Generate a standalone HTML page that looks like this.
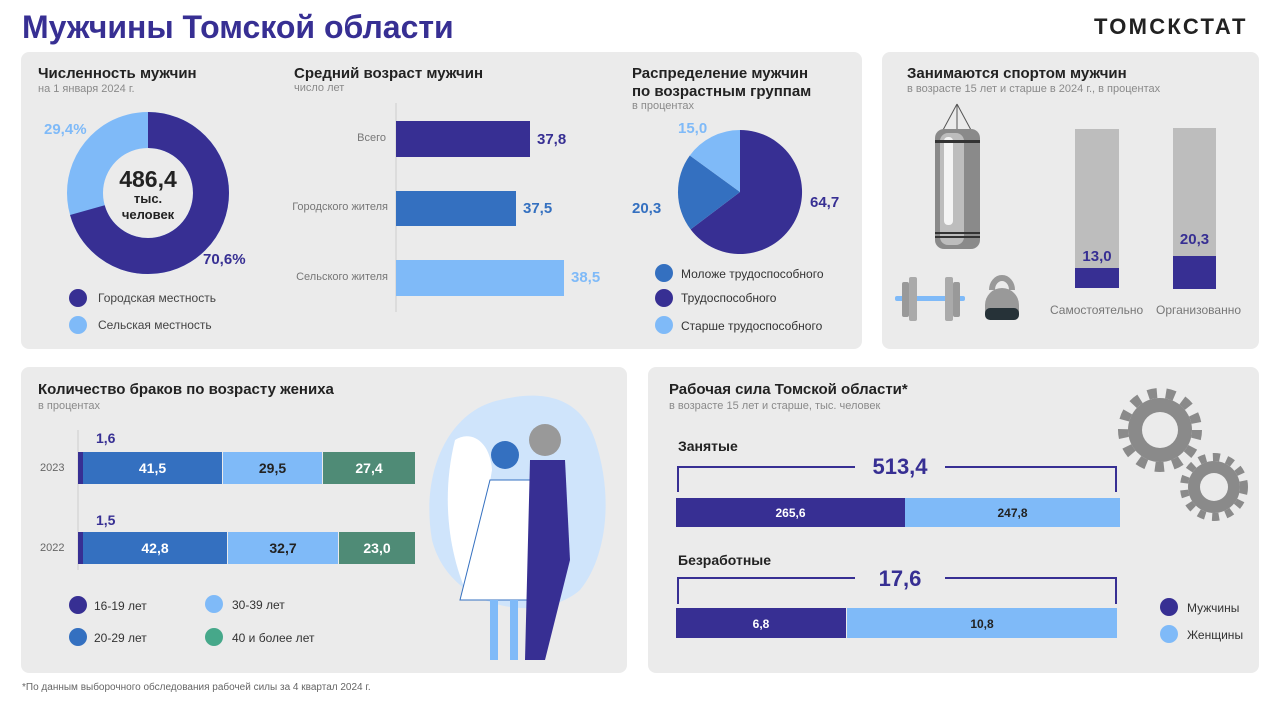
<!DOCTYPE html>
<html><head><meta charset="utf-8"><style>
*{margin:0;padding:0;box-sizing:border-box}
body{width:1280px;height:720px;background:#fff;font-family:"Liberation Sans",sans-serif;position:relative;overflow:hidden;color:#222}
.a{position:absolute;white-space:nowrap}
.p{position:absolute;background:#ebebeb;border-radius:8px}
.h{font-weight:bold;font-size:15px;color:#222}
.s{font-size:11px;color:#8a8a8a}
.dk{color:#372f93}.md{color:#3470c0}.lt{color:#7fbaf8}
.b{font-weight:bold}
</style></head><body>
<div class="a b" style="left:22px;top:9px;font-size:32px;color:#372f93">Мужчины Томской области</div>
<div class="a b" style="left:1094px;top:14px;font-size:22px;letter-spacing:2.3px;color:#222">ТОМСКСТАТ</div>

<div class="p" style="left:21px;top:52px;width:841px;height:297px"></div>
<div class="p" style="left:882px;top:52px;width:377px;height:297px"></div>
<div class="p" style="left:21px;top:367px;width:606px;height:306px"></div>
<div class="p" style="left:648px;top:367px;width:611px;height:306px"></div>

<svg class="a" style="left:0;top:0" width="1280" height="720">
<!-- donut -->
<circle cx="148" cy="193" r="63" fill="none" stroke="#7fbaf8" stroke-width="36"/>
<circle cx="148" cy="193" r="63" fill="none" stroke="#372f93" stroke-width="36" stroke-dasharray="279.4 400" transform="rotate(-90 148 193)"/>
<circle cx="78" cy="298" r="9" fill="#372f93"/><circle cx="78" cy="325" r="9" fill="#7fbaf8"/>
<!-- age bars -->
<line x1="396" y1="103" x2="396" y2="312" stroke="#ccc"/>
<rect x="396" y="121" width="134" height="36" fill="#372f93"/>
<rect x="396" y="191" width="120" height="35" fill="#3470c0"/>
<rect x="396" y="260" width="168" height="36" fill="#7fbaf8"/>
<!-- pie -->
<path d="M740,192 L740,130 A62,62 0 1 1 690.6,229.4 Z" fill="#372f93"/>
<path d="M740,192 L690.6,229.4 A62,62 0 0 1 689.8,155.5 Z" fill="#3470c0"/>
<path d="M740,192 L689.8,155.5 A62,62 0 0 1 740,130 Z" fill="#7fbaf8"/>
<circle cx="664" cy="273" r="9" fill="#3470c0"/><circle cx="664" cy="298" r="9" fill="#372f93"/><circle cx="664" cy="325" r="9" fill="#7fbaf8"/>
<!-- sport -->
<line x1="957" y1="104" x2="943" y2="130" stroke="#555"/><line x1="957" y1="104" x2="971" y2="130" stroke="#555"/><line x1="957" y1="104" x2="957" y2="130" stroke="#555"/>
<rect x="935" y="129" width="45" height="120" rx="9" fill="#8a8a8a"/>
<rect x="940" y="133" width="24" height="112" rx="8" fill="#bdbdbd"/>
<rect x="944" y="137" width="9" height="88" rx="4" fill="#f4f4f4"/>
<rect x="935" y="140" width="45" height="3" fill="#333"/><rect x="935" y="232" width="45" height="2" fill="#333"/><rect x="935" y="236" width="45" height="2" fill="#333"/>
<rect x="895" y="296" width="70" height="5" rx="2" fill="#7fbaf8"/>
<rect x="902" y="282" width="7" height="35" rx="2" fill="#999"/><rect x="909" y="277" width="8" height="44" rx="2" fill="#aaa"/>
<rect x="945" y="277" width="8" height="44" rx="2" fill="#aaa"/><rect x="953" y="282" width="7" height="35" rx="2" fill="#999"/>
<path d="M992,290 a10,12 0 1 1 20,0" fill="none" stroke="#999" stroke-width="6"/>
<path d="M985,305 a17,17 0 0 1 34,0 v10 h-34 z" fill="#999"/><rect x="985" y="308" width="34" height="12" rx="5" fill="#263238"/>
<rect x="1075" y="129" width="44" height="159" fill="#bdbdbd"/><rect x="1075" y="268" width="44" height="20" fill="#372f93"/>
<rect x="1173" y="128" width="43" height="161" fill="#bdbdbd"/><rect x="1173" y="256" width="43" height="33" fill="#372f93"/>
<!-- marriages -->
<line x1="78" y1="430" x2="78" y2="570" stroke="#ccc"/>
<rect x="78" y="452" width="5" height="32" fill="#372f93"/><rect x="83" y="452" width="139" height="32" fill="#3470c0"/><rect x="223" y="452" width="99" height="32" fill="#7fbaf8"/><rect x="323" y="452" width="92" height="32" fill="#4f8b76"/>
<rect x="78" y="532" width="5" height="32" fill="#372f93"/><rect x="83" y="532" width="144" height="32" fill="#3470c0"/><rect x="228" y="532" width="110" height="32" fill="#7fbaf8"/><rect x="339" y="532" width="76" height="32" fill="#4f8b76"/>
<circle cx="78" cy="605" r="9" fill="#372f93"/><circle cx="78" cy="637" r="9" fill="#3470c0"/><circle cx="214" cy="604" r="9" fill="#7fbaf8"/><circle cx="214" cy="637" r="9" fill="#46a88a"/>
<!-- couple -->
<path d="M432,540 C420,470 450,410 500,400 C540,390 580,395 595,440 C615,500 605,560 580,590 C540,625 450,610 432,540Z" fill="#cfe4fb"/>
<path d="M455,440 C470,430 490,440 492,470 L470,600 C450,560 440,500 455,440Z" fill="#fff"/>
<path d="M490,480 L530,480 L550,600 L460,600 Z" fill="#fff" stroke="#3470c0"/>
<circle cx="505" cy="455" r="14" fill="#3470c0"/>
<rect x="490" y="600" width="8" height="60" fill="#7fbaf8"/><rect x="510" y="600" width="8" height="60" fill="#7fbaf8"/>
<path d="M530,460 L565,460 L570,560 L545,660 L525,660 Z" fill="#372f93"/>
<circle cx="545" cy="440" r="16" fill="#999"/>
<!-- labor -->
<path d="M678,492 V467 H855 M945,467 H1116 V492" fill="none" stroke="#372f93" stroke-width="2"/>
<rect x="676" y="498" width="229" height="29" fill="#372f93"/><rect x="905" y="498" width="215" height="29" fill="#7fbaf8"/>
<path d="M678,604 V578 H855 M945,578 H1116 V604" fill="none" stroke="#372f93" stroke-width="2"/>
<rect x="676" y="608" width="170" height="30" fill="#372f93"/><rect x="847" y="608" width="270" height="30" fill="#7fbaf8"/>
<circle cx="1169" cy="607" r="9" fill="#372f93"/><circle cx="1169" cy="634" r="9" fill="#7fbaf8"/>
<g fill="#8a8a8a">
<circle cx="1160" cy="430" r="32"/><circle cx="1160" cy="430" r="18" fill="#ebebeb"/>
<circle cx="1214" cy="487" r="26"/><circle cx="1214" cy="487" r="14" fill="#ebebeb"/>
</g>
<g stroke="#8a8a8a" stroke-width="10" stroke-dasharray="9 9"><circle cx="1160" cy="430" r="37" fill="none"/><circle cx="1214" cy="487" r="30" fill="none" stroke-width="8" stroke-dasharray="7 7"/></g>
</svg>

<div class="a h" style="left:38px;top:65px">Численность мужчин</div>
<div class="a s" style="left:38px;top:83px">на 1 января 2024 г.</div>
<div class="a b lt" style="left:44px;top:121px;font-size:15px">29,4%</div>
<div class="a b dk" style="left:203px;top:251px;font-size:15px">70,6%</div>
<div class="a b" style="left:108px;top:166px;width:80px;text-align:center;font-size:23px;color:#222">486,4</div>
<div class="a b" style="left:108px;top:191px;width:80px;text-align:center;font-size:13px;line-height:16px">тыс.<br>человек</div>
<div class="a" style="left:98px;top:291px;font-size:12px;color:#444">Городская местность</div>
<div class="a" style="left:98px;top:318px;font-size:12px;color:#444">Сельская местность</div>

<div class="a h" style="left:294px;top:65px">Средний возраст мужчин</div>
<div class="a s" style="left:294px;top:82px">число лет</div>
<div class="a" style="left:280px;top:132px;width:106px;text-align:right;font-size:11px;color:#777">Всего</div>
<div class="a" style="left:270px;top:201px;width:118px;text-align:right;font-size:11px;color:#777">Городского жителя</div>
<div class="a" style="left:270px;top:271px;width:118px;text-align:right;font-size:11px;color:#777">Сельского жителя</div>
<div class="a b dk" style="left:537px;top:131px;font-size:15px">37,8</div>
<div class="a b md" style="left:523px;top:200px;font-size:15px">37,5</div>
<div class="a b lt" style="left:571px;top:269px;font-size:15px">38,5</div>

<div class="a h" style="left:632px;top:65px;line-height:18px">Распределение мужчин<br>по возрастным группам</div>
<div class="a s" style="left:632px;top:100px">в процентах</div>
<div class="a b lt" style="left:678px;top:120px;font-size:15px">15,0</div>
<div class="a b md" style="left:632px;top:200px;font-size:15px">20,3</div>
<div class="a b dk" style="left:810px;top:194px;font-size:15px">64,7</div>
<div class="a" style="left:681px;top:267px;font-size:12px;color:#333">Моложе трудоспособного</div>
<div class="a" style="left:681px;top:291px;font-size:12px;color:#333">Трудоспособного</div>
<div class="a" style="left:681px;top:319px;font-size:12px;color:#333">Старше трудоспособного</div>

<div class="a h" style="left:907px;top:65px">Занимаются спортом мужчин</div>
<div class="a s" style="left:907px;top:83px">в возрасте 15 лет и старше в 2024 г.,  в процентах</div>
<div class="a b dk" style="left:1075px;top:248px;width:44px;text-align:center;font-size:15px">13,0</div>
<div class="a b dk" style="left:1173px;top:231px;width:43px;text-align:center;font-size:15px">20,3</div>
<div class="a" style="left:1050px;top:303px;font-size:12px;color:#777">Самостоятельно</div>
<div class="a" style="left:1156px;top:303px;font-size:12px;color:#777">Организованно</div>

<div class="a h" style="left:38px;top:381px">Количество браков по возрасту жениха</div>
<div class="a s" style="left:38px;top:400px">в процентах</div>
<div class="a" style="left:40px;top:462px;font-size:11px;color:#666">2023</div>
<div class="a" style="left:40px;top:542px;font-size:11px;color:#666">2022</div>
<div class="a b dk" style="left:96px;top:430px;font-size:14px">1,6</div>
<div class="a b dk" style="left:96px;top:512px;font-size:14px">1,5</div>
<div class="a b" style="left:83px;top:460px;width:139px;text-align:center;font-size:14px;color:#fff">41,5</div>
<div class="a b" style="left:223px;top:460px;width:99px;text-align:center;font-size:14px;color:#222">29,5</div>
<div class="a b" style="left:323px;top:460px;width:92px;text-align:center;font-size:14px;color:#fff">27,4</div>
<div class="a b" style="left:83px;top:540px;width:144px;text-align:center;font-size:14px;color:#fff">42,8</div>
<div class="a b" style="left:228px;top:540px;width:110px;text-align:center;font-size:14px;color:#222">32,7</div>
<div class="a b" style="left:339px;top:540px;width:76px;text-align:center;font-size:14px;color:#fff">23,0</div>
<div class="a" style="left:94px;top:599px;font-size:12px;color:#333">16-19 лет</div>
<div class="a" style="left:94px;top:631px;font-size:12px;color:#333">20-29 лет</div>
<div class="a" style="left:232px;top:598px;font-size:12px;color:#333">30-39 лет</div>
<div class="a" style="left:232px;top:631px;font-size:12px;color:#333">40 и более лет</div>

<div class="a h" style="left:669px;top:381px">Рабочая сила Томской области*</div>
<div class="a s" style="left:669px;top:400px">в возрасте 15 лет и старше, тыс. человек</div>
<div class="a b" style="left:678px;top:438px;font-size:14px">Занятые</div>
<div class="a b dk" style="left:855px;top:454px;width:90px;text-align:center;font-size:22px">513,4</div>
<div class="a b" style="left:676px;top:506px;width:229px;text-align:center;font-size:12px;color:#fff">265,6</div>
<div class="a b" style="left:905px;top:506px;width:215px;text-align:center;font-size:12px;color:#222">247,8</div>
<div class="a b" style="left:678px;top:552px;font-size:14px">Безработные</div>
<div class="a b dk" style="left:855px;top:566px;width:90px;text-align:center;font-size:22px">17,6</div>
<div class="a b" style="left:676px;top:617px;width:170px;text-align:center;font-size:12px;color:#fff">6,8</div>
<div class="a b" style="left:847px;top:617px;width:270px;text-align:center;font-size:12px;color:#222">10,8</div>
<div class="a" style="left:1187px;top:601px;font-size:12px;color:#333">Мужчины</div>
<div class="a" style="left:1187px;top:628px;font-size:12px;color:#333">Женщины</div>

<div class="a" style="left:22px;top:682px;font-size:10px;color:#666">*По данным выборочного обследования рабочей силы за 4 квартал 2024 г.</div>
</body></html>
